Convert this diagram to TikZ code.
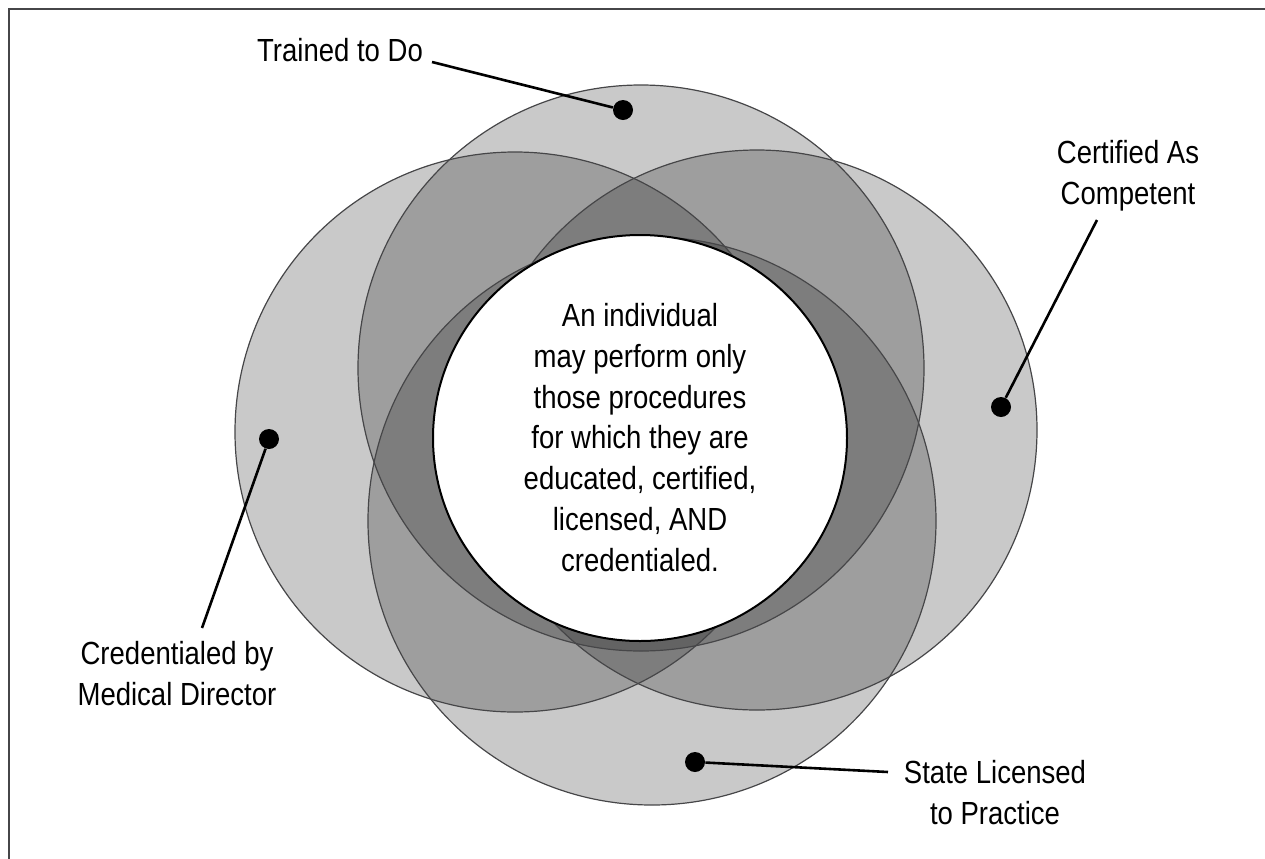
\documentclass[tikz,border=0pt]{standalone}
\usepackage{fontspec}
\setmainfont[FakeStretch=0.86]{Liberation Sans}
\definecolor{rimgrey}{RGB}{70,70,72}
\begin{document}
\begin{tikzpicture}[x=0.5pt,y=-0.5pt,
    ring/.style={fill=black, fill opacity=0.21},
    rim/.style={draw=rimgrey, line width=0.6pt},
    dot/.style={circle, fill=black, inner sep=0pt, minimum size=10pt},
    lead/.style={line width=1.3pt, black},
    lbl/.style={inner sep=0pt, align=center, anchor=north,
        font=\fontsize{16}{20.4}\selectfont}]
    \useasboundingbox (0,0) rectangle (1265,858);
    \clip (0,0) rectangle (1265,858);
    % frame
    \draw
        [line width=0.9pt, rimgrey] (9,1300) -- (9,9) -- (1400,9);
    % the four rings
    \fill[ring] (641,368) circle [radius=283];
    \fill[ring] (515,432) circle [radius=280];
    \fill[ring] (757,430) circle [radius=280];
    \fill[ring] (652,521) circle [radius=284];
    \draw[rim] (641,368) circle [radius=283];
    \draw[rim] (515,432) circle [radius=280];
    \draw[rim] (757,430) circle [radius=280];
    \draw[rim] (652,521) circle [radius=284];
    % centre
    \draw
        [fill=white, line width=1pt] (640,438) ellipse [x radius=207, y radius=203];
    \node[lbl] (core) at (640,303) {An individual\\may perform only\\those procedures\\for which they are\\educated, certified,\\licensed, AND\\credentialed.};
    % labels
    \node[dot] (dotT) at (623,110) {};
    \node[dot] (dotR) at (1001,407) {};
    \node[dot] (dotL) at (269,439) {};
    \node[dot] (dotB) at (695,762) {};
    \node[lbl] (lblT) at (340,38) {Trained to Do};
    \node[lbl] (lblR) at (1128,140) {Certified As\\Competent};
    \node[lbl] (lblL) at (177,641) {Credentialed by\\Medical Director};
    \node[lbl] (lblB) at (995,760) {State Licensed\\to Practice};
    \coordinate (endT) at (432,62);
    \coordinate (endR) at (1097,220);
    \coordinate (endL) at (202,628);
    \coordinate (endB) at (888,772);
    \draw[lead] (dotT) -- (endT);
    \draw[lead] (dotR) -- (endR);
    \draw[lead] (dotL) -- (endL);
    \draw[lead] (dotB) -- (endB);
\end{tikzpicture}
\end{document}
